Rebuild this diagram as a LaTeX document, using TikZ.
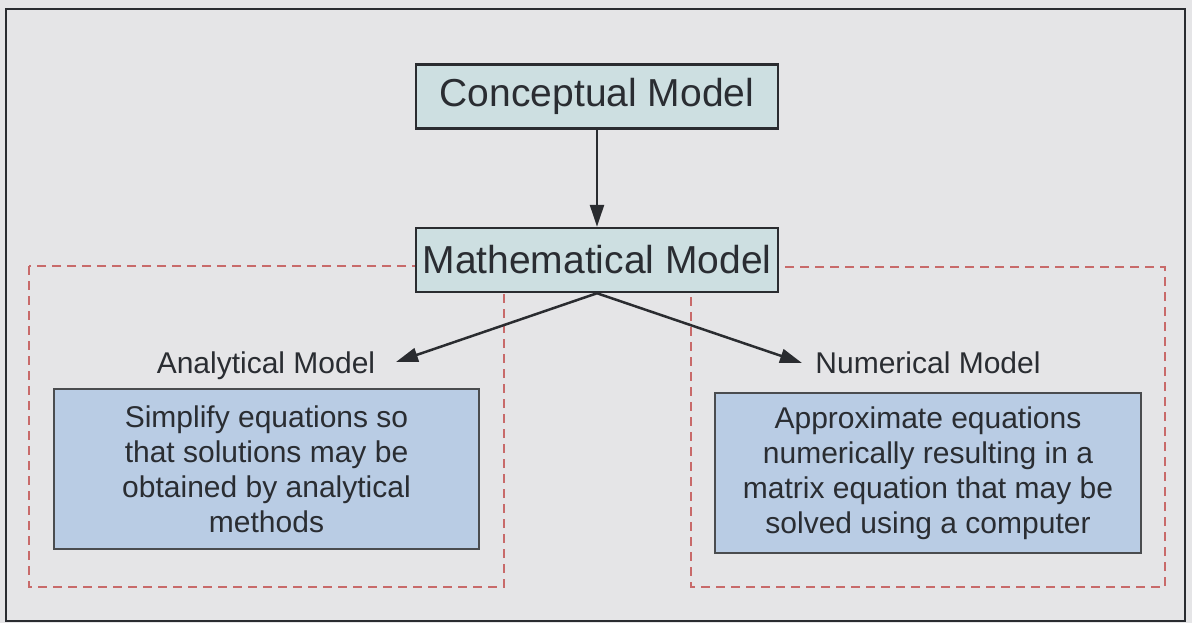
\documentclass[tikz,border=0pt]{standalone}
\usepackage{fontspec}
\setmainfont{Liberation Sans}
\usetikzlibrary{arrows.meta}
\definecolor{bgc}{HTML}{E5E5E7}
\definecolor{topfill}{HTML}{CDDFE1}
\definecolor{lowfill}{HTML}{B9CCE4}
\definecolor{txt}{HTML}{2A2D32}
\definecolor{dashc}{HTML}{C86A6A}
\definecolor{edgec}{HTML}{2A2C30}
\tikzset{
  topbox/.style={draw=edgec, line width=2.5pt, fill=topfill, text=txt, font=\fontsize{39}{44}\selectfont, minimum width=362pt, minimum height=64pt, inner sep=0pt},
  lowbox/.style={draw=edgec!85, line width=2.5pt, fill=lowfill, text=txt, font=\fontsize{30}{35}\selectfont, align=center, inner sep=0pt},
  lbl/.style={text=txt, font=\fontsize{30}{35}\selectfont, inner sep=0pt, anchor=base},
  dashbox/.style={draw=dashc, line width=1.3pt, dash pattern=on 9pt off 6pt},
  conn/.style={draw=edgec, line width=2.5pt, -{Triangle[length=22pt,width=14pt]}}
}
\begin{document}
\begin{tikzpicture}[x=1pt,y=-1pt]
\useasboundingbox (0,0) rectangle (1192,623);
\fill[bgc] (0,0) rectangle (1192,623);
\draw[edgec, line width=2.5pt] (6,9) rectangle (1185,621);
% dashed groups
\draw[dashbox] (29,266) rectangle (504,587);
\draw[dashbox] (691,267) rectangle (1165,587);
% top boxes
\node[topbox] (concept) at (597,96.5) {Conceptual Model};
\node[topbox] (math) at (597,260) {Mathematical Model};
% labels
\node[lbl] (analab) at (266,373) {Analytical Model};
\node[lbl] (numlab) at (928,373) {Numerical Model};
% lower boxes
\node[lowbox, minimum width=425pt, minimum height=160pt] (ana) at (266.5,469)
  {Simplify equations so\\that solutions may be\\obtained by analytical\\methods};
\node[lowbox, minimum width=426pt, minimum height=160pt] (num) at (928,473)
  {Approximate equations\\numerically resulting in a\\matrix equation that may be\\solved using a computer};
% connectors
\coordinate (tipL) at (396,362);
\coordinate (tipR) at (802,363);
\draw[conn] (concept.south) -- (math.north);
\draw[conn] (math.south) -- (tipL);
\draw[conn] (math.south) -- (tipR);
\end{tikzpicture}
\end{document}
